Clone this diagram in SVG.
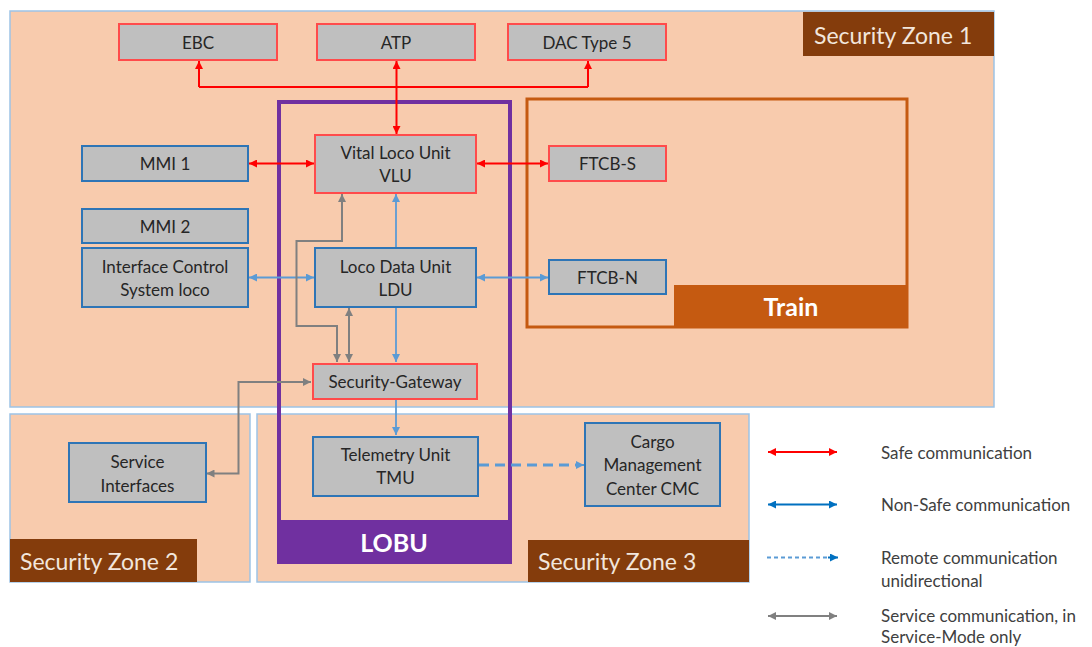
<svg xmlns="http://www.w3.org/2000/svg" width="1092" height="647" viewBox="0 0 1092 647">
<style>
.zone{fill:#F8CBAD;stroke:#9DC3E6;stroke-width:1.5}
.zlabel{fill:#843C0C}
.ztext{fill:#F2E6DC;font-family:Lato,"Liberation Sans",sans-serif;font-size:23px}
.nodeR{fill:#BFBFBF;stroke:#FF4B4B;stroke-width:2}
.nodeB{fill:#BFBFBF;stroke:#2E75B6;stroke-width:2}
.t{fill:#262626;font-family:Lato,"Liberation Sans",sans-serif;font-size:17px;text-anchor:middle;dominant-baseline:central}
.big{fill:#FFFFFF;font-family:Lato,"Liberation Sans",sans-serif;font-size:25px;font-weight:bold;text-anchor:middle;dominant-baseline:central}
.red{fill:none;stroke:#FF0000;stroke-width:2}
.blue{fill:none;stroke:#5B9BD5;stroke-width:1.8}
.gray{fill:none;stroke:#808080;stroke-width:2}
.dash{fill:none;stroke:#5B9BD5;stroke-width:3;stroke-dasharray:10 6}
.lt{fill:#404040;font-family:Lato,"Liberation Sans",sans-serif;font-size:17px;dominant-baseline:central}
</style>
<defs>
<marker id="aR" viewBox="0 0 10 10" refX="10" refY="5" markerWidth="9" markerHeight="8" markerUnits="userSpaceOnUse" orient="auto-start-reverse"><path d="M0,0 L10,5 L0,10 Z" fill="#FF0000"/></marker>
<marker id="aB" viewBox="0 0 10 10" refX="10" refY="5" markerWidth="9" markerHeight="8" markerUnits="userSpaceOnUse" orient="auto-start-reverse"><path d="M0,0 L10,5 L0,10 Z" fill="#5B9BD5"/></marker>
<marker id="aD" viewBox="0 0 10 10" refX="10" refY="5" markerWidth="9" markerHeight="8" markerUnits="userSpaceOnUse" orient="auto-start-reverse"><path d="M0,0 L10,5 L0,10 Z" fill="#0070C0"/></marker>
<marker id="aG" viewBox="0 0 10 10" refX="10" refY="5" markerWidth="9" markerHeight="8" markerUnits="userSpaceOnUse" orient="auto-start-reverse"><path d="M0,0 L10,5 L0,10 Z" fill="#808080"/></marker>
</defs>
<rect width="1092" height="647" fill="#FFFFFF"/>

<g id="zone1">
<rect class="zone" x="10" y="11" width="984" height="396"/>
<rect class="zlabel" x="803" y="12" width="191" height="44"/>
<text class="ztext" x="814" y="35" dominant-baseline="central">Security Zone 1</text>
</g>
<g id="zone2">
<rect class="zone" x="10" y="414" width="240" height="168"/>
<rect class="zlabel" x="10" y="539" width="187" height="43"/>
<text class="ztext" x="20" y="561" dominant-baseline="central">Security Zone 2</text>
</g>
<g id="zone3">
<rect class="zone" x="257" y="414" width="492" height="168"/>
<rect class="zlabel" x="528" y="540" width="221" height="42"/>
<text class="ztext" x="538" y="561" dominant-baseline="central">Security Zone 3</text>
</g>

<g id="train">
<rect x="527" y="99" width="380" height="228" fill="none" stroke="#C55A11" stroke-width="3"/>
<rect x="674" y="285" width="234" height="43" fill="#C55A11"/>
<text class="big" x="791" y="306">Train</text>
</g>

<g id="lobu">
<rect x="279" y="102" width="231" height="460" fill="none" stroke="#7030A0" stroke-width="4"/>
<rect x="277" y="520" width="235" height="44" fill="#7030A0"/>
<text class="big" x="394" y="542">LOBU</text>
</g>

<g id="connectors">
<path class="red" d="M199,87 L588,87" />
<path class="red" d="M199,87 L199,61" marker-end="url(#aR)"/>
<path class="red" d="M588,87 L588,61" marker-end="url(#aR)"/>
<path class="red" d="M396.5,61 L396.5,134" marker-start="url(#aR)" marker-end="url(#aR)"/>
<path class="red" d="M249,163.5 L314,163.5" marker-start="url(#aR)" marker-end="url(#aR)"/>
<path class="red" d="M477,163.5 L548,163.5" marker-start="url(#aR)" marker-end="url(#aR)"/>
<path class="blue" d="M249,277.5 L314,277.5" marker-start="url(#aB)" marker-end="url(#aB)"/>
<path class="blue" d="M477,277.5 L548,277.5" marker-start="url(#aB)" marker-end="url(#aB)"/>
<path class="blue" d="M396,247 L396,194" marker-end="url(#aB)"/>
<path class="blue" d="M396,307 L396,362" marker-end="url(#aB)"/>
<path class="blue" d="M396,400 L396,435" marker-end="url(#aB)"/>
<path class="dash" d="M479,465 L576,465"/>
<path d="M576,465 L584,465" stroke="#5B9BD5" stroke-width="2" marker-end="url(#aB)"/>
<path class="gray" d="M342,194 L342,241 L296.5,241 L296.5,326 L337,326 L337,362" marker-start="url(#aG)" marker-end="url(#aG)"/>
<path class="gray" d="M349,308 L349,362" marker-start="url(#aG)" marker-end="url(#aG)"/>
<path class="gray" d="M311,382 L238.5,382 L238.5,473.5 L206.5,473.5" marker-start="url(#aG)" marker-end="url(#aG)"/>
</g>

<g id="ebc"><rect class="nodeR" x="119" y="24" width="158" height="36"/><text class="t" x="198" y="42">EBC</text></g>
<g id="atp"><rect class="nodeR" x="317" y="24" width="158" height="36"/><text class="t" x="396" y="42">ATP</text></g>
<g id="dac"><rect class="nodeR" x="508" y="24" width="158" height="36"/><text class="t" x="587" y="42">DAC Type 5</text></g>
<g id="vlu"><rect class="nodeR" x="315" y="135" width="161" height="58"/><text class="t" x="395.5" y="152">Vital Loco Unit</text><text class="t" x="395.5" y="175">VLU</text></g>
<g id="mmi1"><rect class="nodeB" x="82" y="146" width="166" height="35"/><text class="t" x="165" y="163.5">MMI 1</text></g>
<g id="ftcbs"><rect class="nodeR" x="549" y="146" width="117" height="35"/><text class="t" x="607.5" y="163.5">FTCB-S</text></g>
<g id="mmi2"><rect class="nodeB" x="82" y="209" width="166" height="34"/><text class="t" x="165" y="226">MMI 2</text></g>
<g id="ics"><rect class="nodeB" x="82" y="248" width="166" height="59"/><text class="t" x="165" y="266">Interface Control</text><text class="t" x="165" y="289">System loco</text></g>
<g id="ldu"><rect class="nodeB" x="315" y="248" width="161" height="59"/><text class="t" x="395.5" y="266">Loco Data Unit</text><text class="t" x="395.5" y="289">LDU</text></g>
<g id="ftcbn"><rect class="nodeB" x="549" y="260" width="117" height="34"/><text class="t" x="607.5" y="277">FTCB-N</text></g>
<g id="sg"><rect class="nodeR" x="313" y="364" width="164" height="35"/><text class="t" x="395" y="381.5">Security-Gateway</text></g>
<g id="si"><rect class="nodeB" x="69" y="443" width="137" height="59"/><text class="t" x="137.5" y="461.5">Service</text><text class="t" x="137.5" y="485">Interfaces</text></g>
<g id="tmu"><rect class="nodeB" x="313" y="437" width="165" height="59"/><text class="t" x="395.5" y="454">Telemetry Unit</text><text class="t" x="395.5" y="477.5">TMU</text></g>
<g id="cmc"><rect class="nodeB" x="585" y="423" width="135" height="83"/><text class="t" x="652.5" y="441.5">Cargo</text><text class="t" x="652.5" y="464.5">Management</text><text class="t" x="652.5" y="488">Center CMC</text></g>

<g id="legend">
<path d="M768,452 L837,452" stroke="#FF0000" stroke-width="2" marker-start="url(#aR)" marker-end="url(#aR)"/>
<text class="lt" x="881" y="452">Safe communication</text>
<path d="M768,504.5 L837,504.5" stroke="#0070C0" stroke-width="2" marker-start="url(#aD)" marker-end="url(#aD)"/>
<text class="lt" x="881" y="504">Non-Safe communication</text>
<path d="M767,557.5 L830,557.5" stroke="#5B9BD5" stroke-width="2" stroke-dasharray="4 3"/>
<path d="M828,557.5 L838,557.5" stroke="#0070C0" stroke-width="2" marker-end="url(#aD)"/>
<text class="lt" x="881" y="557">Remote communication</text>
<text class="lt" x="881" y="580">unidirectional</text>
<path d="M768,616 L837,616" stroke="#808080" stroke-width="2" marker-start="url(#aG)" marker-end="url(#aG)"/>
<text class="lt" x="881" y="615">Service communication, in</text>
<text class="lt" x="881" y="636">Service-Mode only</text>
</g>
</svg>
